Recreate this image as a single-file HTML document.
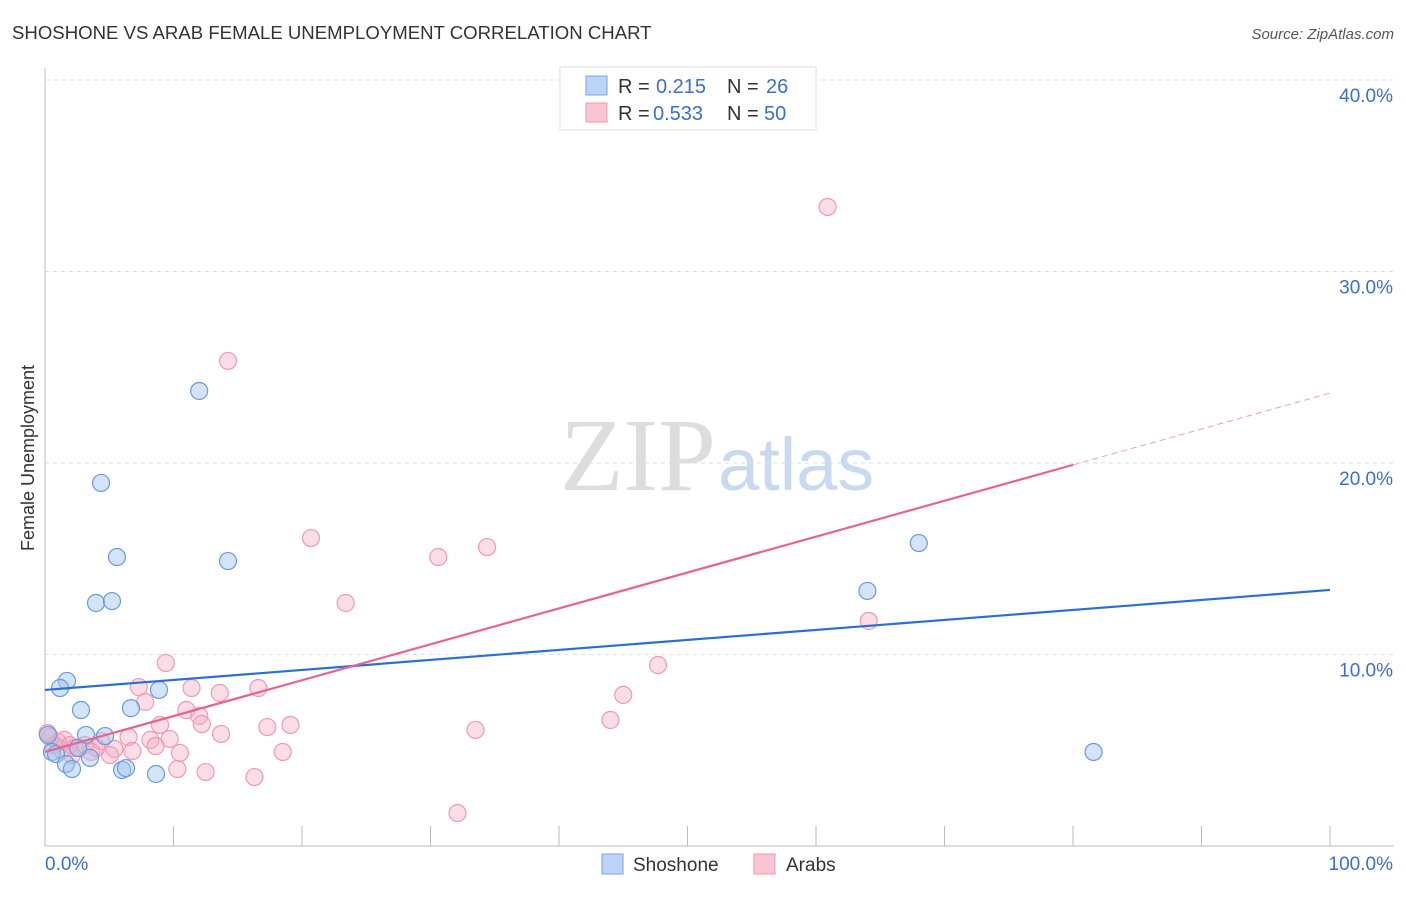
<!DOCTYPE html>
<html><head><meta charset="utf-8"><style>
body{margin:0;background:#fff;font-family:"Liberation Sans",sans-serif;}
</style></head><body>
<svg id="c" width="1406" height="892" xmlns="http://www.w3.org/2000/svg">
<text x="12" y="39" font-size="18.6" fill="#333">SHOSHONE VS ARAB FEMALE UNEMPLOYMENT CORRELATION CHART</text>
<text x="1394" y="39" font-size="15" fill="#555" font-style="italic" text-anchor="end">Source: ZipAtlas.com</text>
<text x="716" y="490" font-size="104" fill="#ddd" text-anchor="end" font-family="Liberation Serif,serif">ZIP</text>
<text x="718" y="490" font-size="74" fill="#c9d9f0">atlas</text>
<text x="34" y="458" font-size="18" fill="#333" transform="rotate(-90 34 458)" text-anchor="middle">Female Unemployment</text>
<g id="axes"></g>
<g id="marks"></g>
<g>
<rect x="560" y="67" width="256" height="63" fill="#fff" stroke="#ddd"/>
<rect x="586" y="76" width="21" height="19" fill="#bcd4f6" stroke="#7aa6e6"/>
<rect x="586" y="103" width="21" height="19" fill="#f9c6d4" stroke="#ee9ab2"/>
<text x="618" y="93" font-size="20" fill="#333">R = <tspan fill="#3a6fd0" x="656">0.215</tspan><tspan x="727" fill="#333">N = </tspan><tspan x="766" fill="#3a6fd0">26</tspan></text>
<text x="618" y="120" font-size="20" fill="#333">R = <tspan fill="#3a6fd0" x="653">0.533</tspan><tspan x="727" fill="#333">N = </tspan><tspan x="764" fill="#3a6fd0">50</tspan></text>
</g>
<g>
<rect x="602" y="854" width="21" height="20" fill="#bcd4f6" stroke="#7aa6e6"/>
<text x="633" y="871" font-size="19" fill="#333">Shoshone</text>
<rect x="754" y="854" width="21" height="20" fill="#f9c6d4" stroke="#ee9ab2"/>
<text x="786" y="871" font-size="19" fill="#333">Arabs</text>
</g>
</svg>
<script>
const yTicks=[10,20,30,40];
const xLabels=["0.0%","100.0%"];
const blueX=[12.0,4.36,5.6,14.24,3.97,5.21,1.71,1.17,8.87,2.8,6.69,3.19,4.67,0.23,0.54,0.86,1.63,2.1,3.5,6.0,6.3,8.64,64.0,68.0,81.6,2.57];
const blueY=[23.76,18.96,15.09,14.88,12.69,12.79,8.62,8.25,8.15,7.1,7.2,5.8,5.74,5.8,4.91,4.8,4.28,4.02,4.6,3.97,4.07,3.76,13.32,15.82,4.91,5.12];
const pinkX=[60.9,14.24,20.7,30.6,34.4,23.4,64.1,9.4,47.7,7.3,11.4,13.6,16.6,45.0,7.8,11.0,12.0,12.2,8.95,17.3,19.1,44.0,13.7,33.5,6.5,8.2,9.7,8.6,4.36,5.4,6.8,4.0,10.5,18.5,10.3,12.5,16.3,32.1,0.4,1.0,1.5,1.95,2.3,3.1,3.6,1.3,0.7,2.1,5.06,0.2];
const pinkY=[33.37,25.33,16.08,15.09,15.61,12.69,11.75,9.56,9.45,8.3,8.25,7.99,8.25,7.89,7.52,7.1,6.79,6.37,6.32,6.21,6.32,6.58,5.85,6.06,5.69,5.54,5.59,5.22,5.48,5.07,4.96,5.12,4.86,4.91,4.02,3.86,3.6,1.72,5.69,5.43,5.54,5.27,5.12,5.27,4.91,5.01,5.27,4.75,4.75,5.9];
const blueLine=[8.15,13.37];
const pinkLine=[4.91,23.65];
const pinkSolidEnd=80;
const NS="http://www.w3.org/2000/svg";
const X=v=>45+v*12.85, Y=v=>846-v*19.15;
function mk(t,a,p){const e=document.createElementNS(NS,t);for(const k in a)e.setAttribute(k,a[k]);p.appendChild(e);return e;}
const ax=document.getElementById('axes'), mg=document.getElementById('marks');
let e=mk('line',{x1:45,y1:68,x2:45,y2:846,stroke:'#bbb'},ax);


e=mk('line',{x1:45,y1:846,x2:1394,y2:846,stroke:'#bbb'},ax);


for(let i=0;i<=10;i++){e=mk('line',{x1:X(i*10),y1:826,x2:X(i*10),y2:846,stroke:'#bbb'},ax);

}
yTicks.forEach(t=>{e=mk('line',{x1:45,y1:Y(t),x2:1394,y2:Y(t),stroke:'#ddd','stroke-dasharray':'4,4'},ax);


e=mk('text',{x:1393,y:Y(t)+22,'font-size':19,fill:'#3a6fd0','text-anchor':'end'},ax);e.textContent=t.toFixed(1)+'%';

});
e=mk('text',{x:45,y:870,'font-size':19,fill:'#3a6fd0'},ax);e.textContent=xLabels[0];


e=mk('text',{x:1393,y:870,'font-size':19,fill:'#3a6fd0','text-anchor':'end'},ax);e.textContent=xLabels[1];


pinkX.forEach((v,i)=>{e=mk('circle',{cx:X(v),cy:Y(pinkY[i]),r:8.5,fill:'rgba(246,170,192,0.4)',stroke:'#f09ab4','stroke-width':1.2},mg);

});
blueX.forEach((v,i)=>{e=mk('circle',{cx:X(v),cy:Y(blueY[i]),r:8.5,fill:'rgba(160,195,240,0.45)',stroke:'#6a9ae0','stroke-width':1.2},mg);

});
e=mk('line',{x1:X(0),y1:Y(blueLine[0]),x2:X(100),y2:Y(blueLine[1]),stroke:'#2a6ed8','stroke-width':2.2},mg);


const py=x=>pinkLine[0]+(pinkLine[1]-pinkLine[0])*x/100;
e=mk('line',{x1:X(0),y1:Y(py(0)),x2:X(pinkSolidEnd),y2:Y(py(pinkSolidEnd)),stroke:'#e8638e','stroke-width':2.2},mg);


e=mk('line',{x1:X(pinkSolidEnd),y1:Y(py(pinkSolidEnd)),x2:X(100),y2:Y(py(100)),stroke:'#eea0b8','stroke-width':1,'stroke-dasharray':'6,4'},mg);


</script>
</body></html>
